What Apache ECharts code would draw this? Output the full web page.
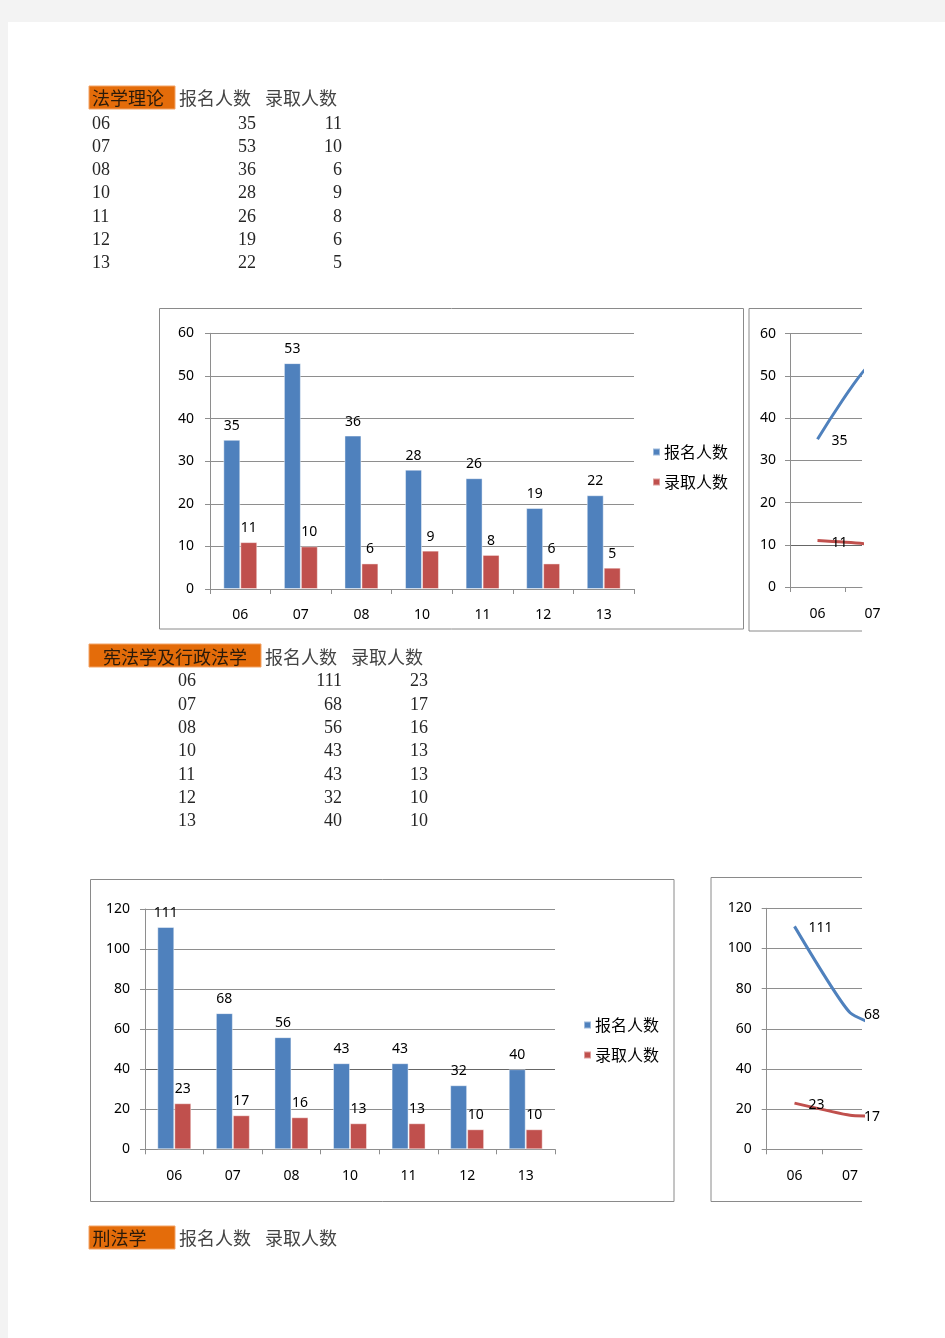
<!DOCTYPE html>
<html><head><meta charset="utf-8">
<script src="https://cdn.jsdelivr.net/npm/echarts@6/dist/echarts.min.js"></script>
<style>html,body{margin:0;padding:0;background:#f3f3f3;}#c{width:945px;height:1338px;}</style>
</head><body><div id="c"></div>
<script>
// ---- data ----
const years = ['06','07','08','10','11','12','13'];
const seriesNames = ['报名人数','录取人数'];
const titles = ['法学理论','宪法学及行政法学','刑法学'];
const signup1 = [35,53,36,28,26,19,22];
const admit1  = [11,10,6,9,8,6,5];
const signup2 = [111,68,56,43,43,32,40];
const admit2  = [23,17,16,13,13,10,10];
const yScale1 = [0,60,10];
const yScale2 = [0,120,20];

// ---- styles ----
const BLUE='#4f81bd', RED='#c0504d', GRIDC='#8e8e8e', ORANGE='#e46c0a', BOXC='#8a8a8a';
const CJK='"Noto Sans CJK SC"';
const SERIF='"Liberation Serif","Noto Sans CJK SC"';
const SANS='"Noto Sans","Noto Sans CJK SC"';
const TXT='#262626';
const FS=14;

function txt(s,x,y,align,font,fill){
  return {type:'text',x:x,y:y,z:10,style:{text:s,font:font,fill:fill||TXT,align:align,verticalAlign:'middle'}};
}
function table(t){
  const els=[];
  els.push({type:'rect',z:5,shape:{x:t.box[0],y:t.box[1],width:t.box[2],height:t.box[3]},style:{fill:ORANGE,stroke:'#f2a366',lineWidth:1}});
  els.push(txt(t.title,t.titleX,t.headY,t.titleAlign,'18px '+CJK,'#2a1a0a'));
  seriesNames.forEach((n,k)=>els.push(txt(n,t.headX[k],t.headY,'left','18px '+CJK,'#444')));
  if(t.cats){
    t.cats.forEach((c,i)=>{
      const y=t.rowY0+i*t.rowStep;
      els.push(txt(c,t.rowX,y,'left','18px '+SERIF));
      t.vals.forEach((arr,k)=>els.push(txt(String(arr[i]),t.valRight[k],y,'right','18px '+SERIF)));
    });
  }
  return els;
}
const graphics=[
  {type:'rect',z:-100,shape:{x:8,y:22,width:937,height:1316},style:{fill:'#fff'}},
  ...table({box:[89,86,86,23],title:titles[0],titleX:92,titleAlign:'left',headX:[179,265],headY:98,
    cats:years,vals:[signup1,admit1],rowX:92,rowY0:124,rowStep:23.2,valRight:[256,342]}),
  ...table({box:[89,644,172,23],title:titles[1],titleX:175,titleAlign:'center',headX:[265,351],headY:657,
    cats:years,vals:[signup2,admit2],rowX:178,rowY0:681.7,rowStep:23.3,valRight:[342,428]}),
  ...table({box:[89,1226,86,23],title:titles[2],titleX:92.5,titleAlign:'left',headX:[179,265],headY:1238.5}),
  {type:'rect',z:5,shape:{x:159.5,y:308.5,width:584,height:320.5},style:{fill:'none',stroke:BOXC,lineWidth:1}},
  {type:'polyline',z:5,shape:{points:[[862,308.5],[749,308.5],[749,631],[862,631]]},style:{fill:'none',stroke:BOXC,lineWidth:1}},
  {type:'rect',z:5,shape:{x:90.5,y:879.5,width:583.5,height:322},style:{fill:'none',stroke:BOXC,lineWidth:1}},
  {type:'polyline',z:5,shape:{points:[[862,877.5],[711,877.5],[711,1201.5],[862,1201.5]]},style:{fill:'none',stroke:BOXC,lineWidth:1}}
];

// ---- layout of the four plots ----
const lineA={left:790,top:333.7,height:253.3,clipRight:862,catW:55};
const lineB={left:766.7,top:908.3,height:241,clipRight:862,catW:55.6};
function aMax(g){return -0.5+(g.clipRight-g.left)/g.catW;}
function visibleCats(g){const m=aMax(g);return years.map((_,i)=>i).filter(i=>i-0.5<m);}

const axisLbl={color:'#000',fontSize:FS,fontFamily:SANS};
function yAx(grid,sc,margin,splitColors){
  return {type:'value',gridIndex:grid,min:sc[0],max:sc[1],interval:sc[2],
    axisLine:{show:true,onZero:false,lineStyle:{color:GRIDC,width:1}},
    axisTick:{show:true,length:5,inside:false,lineStyle:{color:GRIDC}},
    axisLabel:Object.assign({margin:margin},axisLbl),
    splitLine:{show:true,lineStyle:{color:splitColors||GRIDC,width:1}}};
}
function yHidden(grid,sc){return {type:'value',gridIndex:grid,min:sc[0],max:sc[1],show:false};}
function xCat(grid,margin){
  return {type:'category',gridIndex:grid,data:years,boundaryGap:true,
    axisLine:{show:true,lineStyle:{color:GRIDC}},
    axisTick:{show:true,length:5,alignWithLabel:false,lineStyle:{color:GRIDC}},
    axisLabel:Object.assign({margin:margin,interval:0},axisLbl),splitLine:{show:false}};
}
function xClip(grid,g){
  return {type:'value',gridIndex:grid,min:-0.5,max:aMax(g),
    axisLine:{show:true,onZero:false,lineStyle:{color:GRIDC}},
    axisTick:{show:true,length:5,lineStyle:{color:GRIDC},customValues:years.map((_,i)=>i-0.5)},
    axisLabel:{show:false},splitLine:{show:false}};
}
function xLabels(grid,g,margin){
  return {type:'value',gridIndex:grid,min:-0.5,max:years.length-0.5,
    axisLine:{show:false,onZero:false},axisTick:{show:false},splitLine:{show:false},
    axisLabel:Object.assign({margin:margin,customValues:visibleCats(g),formatter:v=>years[Math.round(v)]},axisLbl)};
}
function barS(name,xi,yi,data,color,gap){
  return {type:'bar',name:name,xAxisIndex:xi,yAxisIndex:yi,data:data,barGap:'0%',barCategoryGap:gap,
    itemStyle:{color:color,borderColor:'rgba(255,255,255,0.45)',borderWidth:1},
    label:{show:true,position:'top',distance:7,color:'#000',fontSize:FS,fontFamily:SANS}};
}
function lineS(name,xi,yi,vals,color){
  return {type:'line',name:name,xAxisIndex:xi,yAxisIndex:yi,clip:true,smooth:0.15,
    data:years.map((_,i)=>[i,vals[i]]),
    showSymbol:true,symbol:'circle',symbolSize:0,itemStyle:{color:color},
    lineStyle:{color:color,width:3},
    label:{show:true,position:'right',distance:14,offset:[0,2],color:'#000',fontSize:FS,fontFamily:SANS,
      formatter:p=>String(p.value[1])}};
}
function legend(left,top){
  return {orient:'vertical',left:left,top:top,padding:0,itemWidth:7,itemHeight:7,itemGap:14,icon:'rect',
    data:seriesNames,selectedMode:false,
    textStyle:{fontSize:16,fontFamily:CJK,color:'#000',lineHeight:16,padding:[0,0,0,-1]}};
}

const chart=echarts.init(document.getElementById('c'),null,{renderer:'canvas'});
chart.setOption({
  animation:false,backgroundColor:'transparent',
  graphic:{elements:graphics},
  grid:[
    {left:210,top:333.3,width:424,height:255.7,containLabel:false,outerBoundsMode:'none'},
    {left:lineA.left,top:lineA.top,width:lineA.clipRight-lineA.left,height:lineA.height,containLabel:false,outerBoundsMode:'none'},
    {left:lineA.left,top:lineA.top,width:lineA.catW*years.length,height:lineA.height,containLabel:false,outerBoundsMode:'none'},
    {left:145,top:909,width:410,height:240.3,containLabel:false,outerBoundsMode:'none'},
    {left:lineB.left,top:lineB.top,width:lineB.clipRight-lineB.left,height:lineB.height,containLabel:false,outerBoundsMode:'none'},
    {left:lineB.left,top:lineB.top,width:lineB.catW*years.length,height:lineB.height,containLabel:false,outerBoundsMode:'none'}
  ],
  xAxis:[xCat(0,19),xClip(1,lineA),xLabels(2,lineA,20),xCat(3,20),xClip(4,lineB),xLabels(5,lineB,20)],
  yAxis:[yAx(0,yScale1,16),yAx(1,yScale1,14,[GRIDC,'#666',GRIDC,GRIDC,GRIDC,GRIDC,GRIDC]),yHidden(2,yScale1),
         yAx(3,yScale2,15,[GRIDC,GRIDC,'#666',GRIDC,GRIDC,GRIDC,GRIDC]),yAx(4,yScale2,15),yHidden(5,yScale2)],
  legend:[legend(652,444),legend(583,1017)],
  series:[
    barS(seriesNames[0],0,0,signup1,BLUE,'44%'),
    barS(seriesNames[1],0,0,admit1,RED,'44%'),
    lineS(seriesNames[0],1,1,signup1,BLUE),
    lineS(seriesNames[1],1,1,admit1,RED),
    barS(seriesNames[0],3,3,signup2,BLUE,'42%'),
    barS(seriesNames[1],3,3,admit2,RED,'42%'),
    lineS(seriesNames[0],4,4,signup2,BLUE),
    lineS(seriesNames[1],4,4,admit2,RED)
  ]
});
</script></body></html>
